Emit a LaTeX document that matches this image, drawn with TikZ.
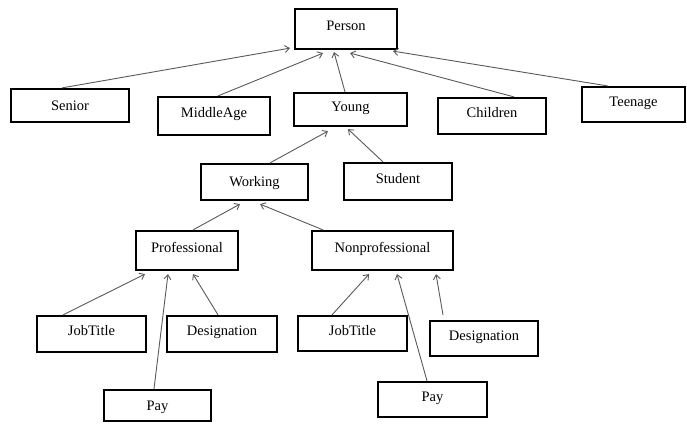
\documentclass[tikz,border=0pt]{standalone}
\usepackage{fontspec}
\setmainfont{Liberation Serif}
\usetikzlibrary{arrows.meta}
\begin{document}
\begin{tikzpicture}[x=1pt,y=-1pt,
  cls/.style={draw=black, line width=2.2pt, rectangle, inner sep=0pt, font=\fontsize{14.5}{17}\selectfont, text=black, text height=8pt, text depth=4.5pt},
  low/.style={text height=9.6pt, text depth=0pt},
  isa/.style={draw=black!65, line width=0.9pt, -{Straight Barb[length=4.5pt,width=7pt]}}]
\useasboundingbox (0,0) rectangle (687,423);
\node[cls, minimum width=102pt, minimum height=40pt] (person) at (346,29) {Person};
\node[cls, low, minimum width=118pt, minimum height=33pt] (senior) at (70,105.5) {Senior};
\node[cls, minimum width=112pt, minimum height=38pt] (middle) at (214,116) {MiddleAge};
\node[cls, minimum width=113pt, minimum height=33pt] (young) at (350.5,109.5) {Young};
\node[cls, minimum width=108pt, minimum height=36pt] (children) at (492,116) {Children};
\node[cls, minimum width=103pt, minimum height=35pt] (teen) at (633.5,104.5) {Teenage};
\node[cls, low, minimum width=107pt, minimum height=36pt] (working) at (254.5,182) {Working};
\node[cls, minimum width=108pt, minimum height=37pt] (student) at (398,181.5) {Student};
\node[cls, minimum width=102pt, minimum height=39pt] (prof) at (187,250.5) {Professional};
\node[cls, minimum width=141pt, minimum height=39pt] (nonprof) at (382.5,250.5) {Nonprofessional};
\node[cls, minimum width=109pt, minimum height=36pt] (jobp) at (91.5,334) {JobTitle};
\node[cls, minimum width=110pt, minimum height=36pt] (desp) at (222,334) {Designation};
\node[cls, low, minimum width=107pt, minimum height=31pt] (payp) at (157.5,405.5) {Pay};
\node[cls, minimum width=109pt, minimum height=35pt] (jobn) at (352.5,333.5) {JobTitle};
\node[cls, minimum width=108pt, minimum height=35pt] (desn) at (484,338.5) {Designation};
\node[cls, minimum width=109pt, minimum height=35pt] (payn) at (432.5,399.5) {Pay};

\draw[isa] ([xshift=-8pt]senior.north) -- ([xshift=-56pt,yshift=2pt]person.south);
\draw[isa] ([xshift=4pt]middle.north) -- ([xshift=-23pt,yshift=-3pt]person.south);
\draw[isa] ([xshift=-5.5pt]young.north) -- ([xshift=-12pt,yshift=-2pt]person.south);
\draw[isa] ([xshift=22pt]children.north) -- ([xshift=4pt,yshift=-3pt]person.south);
\draw[isa] ([xshift=-26pt]teen.north) -- ([xshift=47pt,yshift=-1pt]person.south);
\draw[isa] ([xshift=15.5pt]working.north) -- ([xshift=-22.5pt,yshift=-4pt]young.south);
\draw[isa] ([xshift=-15pt]student.north) -- ([xshift=-2.5pt,yshift=-2pt]young.south);
\draw[isa] ([xshift=6pt]prof.north) -- ([xshift=-14.5pt,yshift=-3pt]working.south);
\draw[isa] ([xshift=-59.5pt]nonprof.north) -- ([xshift=5.5pt,yshift=-3pt]working.south);
\draw[isa] ([xshift=-28.5pt]jobp.north) -- ([xshift=-42pt,yshift=-3pt]prof.south);
\draw[isa] ([xshift=-3.5pt]payp.north) -- ([xshift=-19pt,yshift=-3pt]prof.south);
\draw[isa] ([xshift=-4pt]desp.north) -- ([xshift=6pt,yshift=-3pt]prof.south);
\draw[isa] ([xshift=-20.5pt]jobn.north) -- ([xshift=-13.5pt,yshift=-3pt]nonprof.south);
\draw[isa] ([xshift=-5.5pt]payn.north) -- ([xshift=14.5pt,yshift=-3pt]nonprof.south);
\draw[isa] ([xshift=-41pt,yshift=5pt]desn.north) -- ([xshift=53.5pt,yshift=-3pt]nonprof.south);
\end{tikzpicture}
\end{document}
